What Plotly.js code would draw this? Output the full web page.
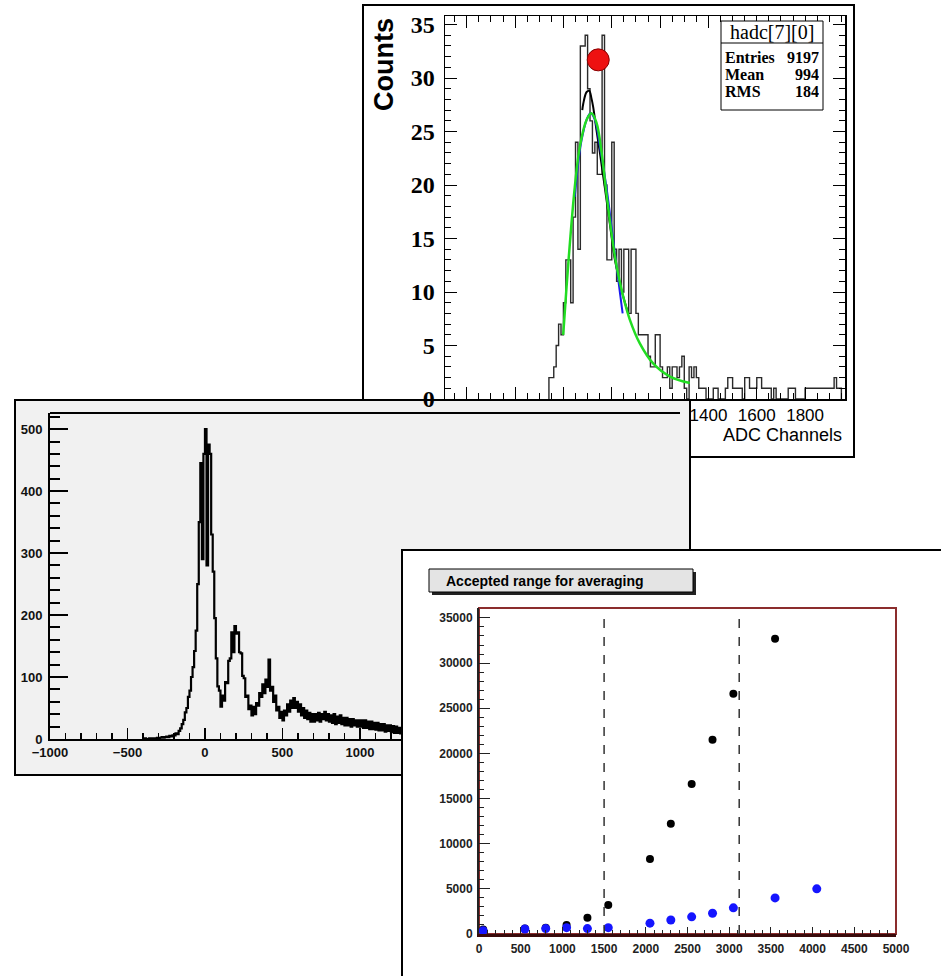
<!DOCTYPE html>
<html><head><meta charset="utf-8">
<script src="https://cdn.plot.ly/plotly-3.0.1.min.js"></script>
<style>html,body{margin:0;padding:0;background:#fff;}#chart{width:941px;height:976px;}</style>
</head><body><div id="chart"></div>
<script>
// ---------- Panel 1: hadc[7][0] ----------
const p1BinStart = 740;
const p1BinWidth = 10;
const p1Counts = [2,2,3,5,7,6,9,13,13,9,17,24,14,33,33,34,29,26,23,24,21,21,34,20,13,13,24,14,11,14,
  10,14,14,8,14,14,8,6,6,6,6,4,3,3,6,6,3,2,2,3,1,3,3,2,3,4,1,0,3,2,3,2,
  1,1,1,0,0,0,1,1,0,0,0,1,2,2,1,1,1,1,0,2,2,1,1,1,2,2,1,1,1,1,0,1,0,0,0,0,0,1,1,1,0,0,0,0,
  1,1,1,1,1,1,1,1,1,1,1,1,2,1,1];
const p1GreenX = [799,813,829,847,868,896,916,937,958,978,999,1020,1047,1075,1116,1172,1241,1323];
const p1GreenY = [6.0,10.5,15.2,19.8,23.6,26.1,26.7,25.8,23.0,19.2,15.5,12.4,9.6,7.4,5.2,3.3,2.1,1.5];
const p1BlueX = [847,861,875,896,912,930,951,978,999,1020,1034,1045];
const p1BlueY = [18.9,22.0,24.2,26.1,26.7,26.1,23.6,19.8,16.1,12.4,9.9,8.0];
const p1BlackX = [878,882,896,907,916,923,937,951,971,992,1013,1040,1068];
const p1BlackY = [27.0,27.6,28.7,28.8,28.1,27.3,25.1,23.0,19.8,16.4,13.0,10.2,8.0];
const p1MarkerX = [944];
const p1MarkerY = [31.7];
const p1StatsTitle = 'hadc[7][0]';
const p1StatsLabels = ['Entries','Mean','RMS'];
const p1StatsValues = ['9197','994','184'];
const p1XTickVals = [400,600,800,1000,1200,1400,1600,1800];
const p1XTickText = ['','','','','','1400','1600','1800'];
const p1YTitle = 'Counts';
const p1XTitle = 'ADC Channels';

// ---------- Panel 2: wide spectrum ----------
const p2BinStart = -400;
const p2BinWidth = 10;
const p2Counts = [0,1,0,0,1,0,1,1,0,2,
  1,2,3,2,3,4,3,5,4,6,
  6,9,8,13,17,24,31,43,50,68,
  78,100,116,142,175,250,350,445,290,460,
  500,280,475,460,330,270,195,130,85,78,
  52,70,62,92,90,126,130,172,140,182,
  170,172,140,138,102,98,68,70,48,54,
  38,52,40,58,54,74,68,88,74,96,
  84,128,78,84,60,70,46,52,34,44,
  30,46,38,56,44,62,50,66,50,60,
  44,56,38,50,34,46,32,42,28,40,
  28,40,30,42,28,40,32,44,30,40,
  28,38,26,40,24,36,26,38,24,34,
  22,34,22,32,20,32,22,30,20,30,
  20,30,18,30,18,28,16,28,16,26,
  15,26,14,24,14,24,12,22,13,22,
  11,21,10,20,10,18,9,18];

// ---------- Panel 3: Accepted range for averaging ----------
const p3Title = 'Accepted range for averaging';
const p3BlackX = [50,550,800,1050,1300,1550,2050,2300,2550,2800,3050,3550];
const p3BlackY = [500,600,700,1000,1800,3200,8300,12200,16600,21500,26600,32700];
const p3BlueX = [50,550,800,1050,1300,1550,2050,2300,2550,2800,3050,3550,4050];
const p3BlueY = [370,550,600,700,600,700,1200,1550,1900,2300,2900,4000,5000];
const p3RangeLimits = [1500,3120];

// ---------- helpers ----------
const W = 941, H = 976;
const px = v => v / W;
const py = v => 1 - v / H;
function stepXY(start, width, counts) {
  const x = [start], y = [0];
  counts.forEach((c, i) => { x.push(start + i * width); y.push(c); });
  x.push(start + counts.length * width); y.push(0);
  return {x, y};
}
const h1 = stepXY(p1BinStart, p1BinWidth, p1Counts);
const h2 = stepXY(p2BinStart, p2BinWidth, p2Counts);

const SANS = 'Liberation Sans, Arial, sans-serif';
const SERIF = 'Liberation Serif, Times New Roman, serif';

const traces = [
  {x: h1.x, y: h1.y, type: 'scatter', mode: 'lines', line: {shape: 'hv', color: '#2a2a2a', width: 1.4}, xaxis: 'x', yaxis: 'y', hoverinfo: 'skip'},
  {x: p1BlackX, y: p1BlackY, type: 'scatter', mode: 'lines', line: {shape: 'spline', color: '#000', width: 2}, xaxis: 'x', yaxis: 'y'},
  {x: p1BlueX, y: p1BlueY, type: 'scatter', mode: 'lines', line: {shape: 'spline', color: '#1a1aee', width: 2}, xaxis: 'x', yaxis: 'y'},
  {x: p1GreenX, y: p1GreenY, type: 'scatter', mode: 'lines', line: {shape: 'spline', color: '#22dd22', width: 2.5}, xaxis: 'x', yaxis: 'y'},
  {x: p1MarkerX, y: p1MarkerY, type: 'scatter', mode: 'markers', marker: {size: 22, color: '#ee1111', line: {color: '#880000', width: 1}}, xaxis: 'x', yaxis: 'y'},
  {x: h2.x, y: h2.y, type: 'scatter', mode: 'lines', line: {shape: 'hv', color: '#000', width: 2.2}, xaxis: 'x2', yaxis: 'y2', hoverinfo: 'skip'},
  {x: p3BlackX, y: p3BlackY, type: 'scatter', mode: 'markers', marker: {size: 8, color: '#000'}, xaxis: 'x3', yaxis: 'y3'},
  {x: p3BlueX, y: p3BlueY, type: 'scatter', mode: 'markers', marker: {size: 9, color: '#1515ff'}, xaxis: 'x3', yaxis: 'y3'}
];

const shapes = [
  // panel 1 frame
  {type: 'rect', xref: 'paper', yref: 'paper', x0: px(363), x1: px(854), y0: py(457), y1: py(5), fillcolor: '#fff', line: {color: '#000', width: 2}, layer: 'below'},
  // panel 2 frame
  {type: 'rect', xref: 'paper', yref: 'paper', x0: px(15), x1: px(690), y0: py(775), y1: py(400), fillcolor: '#f1f1f1', line: {color: '#000', width: 2}, layer: 'below'},
  {type: 'line', xref: 'paper', yref: 'paper', x0: px(50), x1: px(680), y0: py(413), y1: py(413), line: {color: '#000', width: 2}, layer: 'below'},
  // panel 3 frame
  {type: 'rect', xref: 'paper', yref: 'paper', x0: px(402), x1: px(950), y0: py(990), y1: py(550), fillcolor: '#fff', line: {color: '#000', width: 2}, layer: 'below'},
  {type: 'rect', xref: 'paper', yref: 'paper', x0: px(479), x1: px(896), y0: py(934), y1: py(608), line: {color: '#8b2d2d', width: 2}, layer: 'below'},
  {type: 'rect', xref: 'paper', yref: 'paper', x0: px(432), x1: px(696), y0: py(595), y1: py(572), fillcolor: '#222', line: {width: 0}, layer: 'below'},
  {type: 'rect', xref: 'paper', yref: 'paper', x0: px(429), x1: px(693), y0: py(592), y1: py(569), fillcolor: '#e4e4e4', line: {color: '#000', width: 1}, layer: 'below'},
  // stats box
  {type: 'rect', xref: 'paper', yref: 'paper', x0: px(721), x1: px(823), y0: py(110), y1: py(21), fillcolor: '#fff', line: {color: '#000', width: 1}, layer: 'above'},
  {type: 'line', xref: 'paper', yref: 'paper', x0: px(721), x1: px(823), y0: py(43), y1: py(43), line: {color: '#000', width: 1}, layer: 'above'}
];
p3RangeLimits.forEach(v => shapes.push({type: 'line', xref: 'x3', yref: 'y3', x0: v, x1: v, y0: 0, y1: 35500, line: {color: '#333', width: 1.5, dash: 'dash'}, layer: 'above'}));

function ann(text, x, y, xa, size, family) {
  return {text: text, xref: 'paper', yref: 'paper', x: px(x), y: py(y), xanchor: xa, yanchor: 'middle', showarrow: false, font: {family: family, size: size, color: '#000'}};
}
const annotations = [
  Object.assign(ann('<b>' + p1YTitle + '</b>', 384, 65, 'center', 27, SANS), {textangle: -90}),
  ann(p1XTitle, 844, 435, 'right', 18, SANS),
  ann(p1StatsTitle, 772, 32, 'center', 20, SERIF),
  ann('<b>' + p3Title + '</b>', 444, 581, 'left', 14, SANS)
];
const rowY = [57, 74.5, 92];
p1StatsLabels.forEach((lab, i) => {
  annotations.push(Object.assign(ann('<b>' + lab + '</b>', 723, rowY[i], 'left', 16, SERIF), {height: 15}));
  annotations.push(Object.assign(ann('<b>' + p1StatsValues[i] + '</b>', 821, rowY[i], 'right', 16, SERIF), {height: 15}));
});

const layout = {
  width: W, height: H, autosize: false,
  margin: {l: 0, r: 0, t: 0, b: 0, pad: 0},
  paper_bgcolor: '#fff', plot_bgcolor: 'rgba(0,0,0,0)',
  showlegend: false,
  xaxis: {domain: [px(445), px(845)], anchor: 'y', range: [310, 1965], showgrid: false, zeroline: false,
    showline: true, linecolor: '#000', linewidth: 1.5, mirror: 'ticks',
    tickmode: 'array', tickvals: p1XTickVals, ticktext: p1XTickText, ticks: 'inside', ticklen: 12, tickcolor: '#000',
    minor: {tickmode: 'linear', tick0: 0, dtick: 50, ticks: 'inside', ticklen: 6, tickcolor: '#000', showgrid: false},
    tickfont: {family: SANS, size: 17, color: '#000'}, ticklabelstandoff: 0},
  yaxis: {domain: [py(399), py(16)], anchor: 'x', range: [0, 35.8], showgrid: false, zeroline: false,
    showline: true, linecolor: '#000', linewidth: 1.5, mirror: 'ticks',
    tickmode: 'linear', tick0: 0, dtick: 5, ticks: 'inside', ticklen: 12, tickcolor: '#000',
    minor: {tickmode: 'linear', tick0: 0, dtick: 1, ticks: 'inside', ticklen: 6, tickcolor: '#000', showgrid: false},
    tickfont: {family: SERIF, size: 24, color: '#000', weight: 'bold'}, ticklabelstandoff: 4},
  xaxis2: {domain: [px(50), px(401)], anchor: 'y2', range: [-1000, 1265], showgrid: false, zeroline: false,
    showline: true, linecolor: '#000', linewidth: 2,
    tickmode: 'linear', tick0: 0, dtick: 500, ticks: 'inside', ticklen: 11, tickcolor: '#000', tickwidth: 1.5,
    minor: {tickmode: 'linear', tick0: 0, dtick: 100, ticks: 'inside', ticklen: 6, tickcolor: '#000', tickwidth: 1.5, showgrid: false},
    tickfont: {family: SANS, size: 13, color: '#111', weight: 'bold'}, ticklabelstandoff: 0},
  yaxis2: {domain: [py(739), py(413)], anchor: 'x2', range: [0, 526], showgrid: false, zeroline: false,
    showline: true, linecolor: '#000', linewidth: 2,
    tickmode: 'linear', tick0: 0, dtick: 100, ticks: 'inside', ticklen: 18, tickcolor: '#000', tickwidth: 2,
    minor: {tickmode: 'linear', tick0: 0, dtick: 20, ticks: 'inside', ticklen: 10, tickcolor: '#000', tickwidth: 2, showgrid: false},
    tickfont: {family: SANS, size: 13, color: '#111', weight: 'bold'}, ticklabelstandoff: 3},
  xaxis3: {domain: [px(479), px(896)], anchor: 'y3', range: [0, 5000], showgrid: false, zeroline: false,
    showline: true, linecolor: '#3a0a0a', linewidth: 2.5,
    tickmode: 'linear', tick0: 0, dtick: 500, ticks: 'inside', ticklen: 7, tickcolor: '#222',
    minor: {tickmode: 'linear', tick0: 0, dtick: 100, ticks: 'inside', ticklen: 4, tickcolor: '#222', showgrid: false},
    tickformat: 'd', tickfont: {family: SANS, size: 12, color: '#222', weight: 'bold'}, ticklabelstandoff: 2},
  yaxis3: {domain: [py(934), py(608)], anchor: 'x3', range: [0, 36100], showgrid: false, zeroline: false,
    showline: true, linecolor: '#222', linewidth: 2,
    tickmode: 'linear', tick0: 0, dtick: 5000, ticks: 'inside', ticklen: 11, tickcolor: '#222',
    minor: {tickmode: 'linear', tick0: 0, dtick: 1000, ticks: 'inside', ticklen: 5, tickcolor: '#222', showgrid: false},
    tickformat: 'd', tickfont: {family: SANS, size: 12, color: '#222', weight: 'bold'}, ticklabelstandoff: 2},
  shapes: shapes,
  annotations: annotations
};

Plotly.newPlot('chart', traces, layout, {staticPlot: true, displayModeBar: false});
</script>
</body></html>
